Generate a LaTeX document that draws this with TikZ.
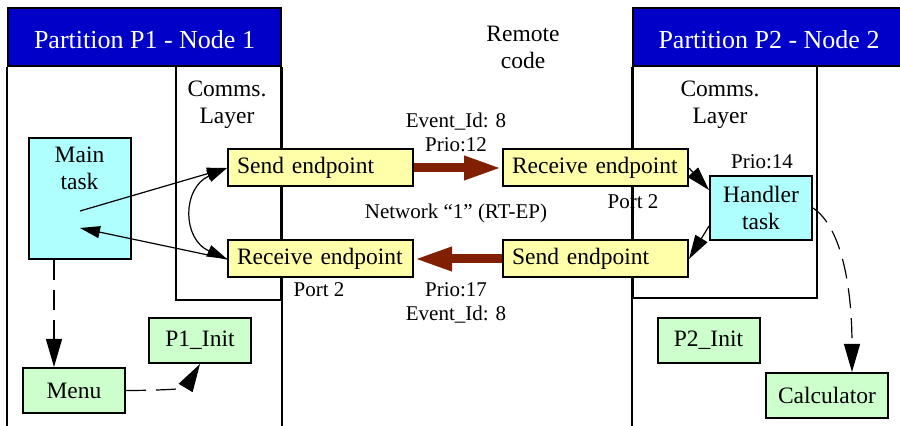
\documentclass[tikz,border=0pt]{standalone}
\usepackage{fontspec}
\setmainfont{Liberation Serif}
\usetikzlibrary{arrows.meta,positioning}
\definecolor{bandblue}{RGB}{0,0,200}
\definecolor{endpyellow}{RGB}{255,255,170}
\definecolor{taskcyan}{RGB}{175,255,255}
\definecolor{initgreen}{RGB}{204,255,204}
\definecolor{netbrown}{RGB}{128,32,0}

\begin{document}
\begin{tikzpicture}[x=0.5pt, y=-0.5pt, font=\fontsize{11.75}{13.5}\selectfont, >={Triangle[length=10pt,width=6pt]}]
	\tikzstyle{partbar}=[draw, line width=1.2pt, fill=bandblue, text=white, minimum width=136.5pt, minimum height=29pt, inner sep=0pt, text height=11.6pt, text depth=0pt, font=\fontsize{13}{15}\selectfont]
	\tikzstyle{layerbox}=[draw, line width=1.2pt, inner sep=0pt]
	\tikzstyle{endp}=[draw, line width=1pt, fill=endpyellow, text width=83.5pt, inner xsep=4.5pt, inner ysep=0pt, minimum height=18.5pt, align=left]
	\tikzstyle{taskbox}=[draw, line width=1pt, fill=taskcyan, minimum width=51pt, inner sep=0pt, align=center]
	\tikzstyle{initbox}=[draw, line width=1pt, fill=initgreen, minimum width=51pt, minimum height=22.5pt, inner sep=0pt]
	\tikzstyle{txt}=[align=center, inner sep=0pt]
	\tikzstyle{smalllbl}=[align=center, inner sep=0pt, font=\fontsize{10.5}{12}\selectfont]
	\tikzstyle{arr}=[->, line width=0.6pt]
	\tikzstyle{bigarr}=[-{Triangle[length=12pt,width=7pt]}, line width=0.6pt]
	\tikzstyle{dasharr}=[-{Triangle[length=14pt,width=8pt]}, line width=0.6pt, dash pattern=on 10pt off 5pt]
	\tikzstyle{netarr}=[-{Triangle[length=19pt,width=11pt]}, line width=4.5pt, draw=netbrown]

	\useasboundingbox (0,0) rectangle (900,426);
	\clip (0,0) rectangle (900,426);

	\node[partbar] (p1bar) at (144.5,37) {Partition P1 - Node 1};
	\node[partbar, minimum width=136pt] (p2bar) at (769,37) {Partition P2 - Node 2};
	\draw[line width=1.2pt] (p1bar.south west) -- ++(0,370);
	\draw[line width=1.2pt] (p1bar.south east) -- ++(0,370);
	\draw[line width=1.2pt] (p2bar.south west) -- ++(0,370);

	\node[layerbox, minimum width=52.5pt, minimum height=117pt] (layer1) at (228.5,183) {};
	\node[layerbox, minimum width=92pt, minimum height=116pt] (layer2) at (725,182) {};
	\node[txt] (layer1lbl) at (227,105) {Comms.\\Layer};
	\node[txt] (layer2lbl) at (720,105) {Comms.\\Layer};
	\node[txt] (remote) at (523,47) {Remote\\code};

	\node[endp] (send1) at (320.5,168) {Send endpoint};
	\node[endp] (recv1) [below=26pt of send1] {Receive endpoint};
	\node[endp] (recv2) [right=44pt of send1] {Receive endpoint};
	\node[endp] (send2) [below=26pt of recv2] {Send endpoint};

	\node[taskbox, minimum height=60.5pt, label={[txt, anchor=north, yshift=-5pt]north:{Main\\task}}] (main) at (79.5,198.5) {};
	\node[taskbox, minimum height=32pt] (handler) at (761,208) {Handler\\task};
	\node[initbox] (p1init) at (200,340.5) {P1\_Init};
	\node[initbox] (p2init) at (708.5,340.5) {P2\_Init};
	\node[initbox] (menu) at (74,390.5) {Menu};
	\node[initbox, minimum width=61pt] (calc) at (827,395.5) {Calculator};

	\node[smalllbl] (prio12) at (456,132) {Event\_Id: 8\\Prio:12};
	\node[smalllbl] (network) at (456,213) {Network “1” (RT-EP)};
	\node[smalllbl] (prio17) at (456,303) {Prio:17\\Event\_Id: 8};
	\node[smalllbl] (port2a) at (319,290) {Port 2};
	\node[smalllbl] (port2b) at (633,202) {Port 2};
	\node[smalllbl] (prio14) at (762,162) {Prio:14};

	\coordinate (mainout) at (80,211);
	\coordinate (mainin) at (80,228);

	\draw[arr] (mainout) -- (send1.west);
	\draw[arr] (recv1.west) -- (mainin);
	\draw[arr, <->] (send1.west) .. controls +(-45,20) and +(-45,-20) .. (recv1.west);

	\draw[netarr] (send1.east) -- (recv2.west);
	\draw[netarr] (send2.west) -- (recv1.east);

	\draw[bigarr] (recv2.east) -- ([yshift=9pt]handler.west);
	\draw[bigarr] ([yshift=-9pt]handler.west) -- (send2.east);

	\draw[dasharr] ([xshift=-12.75pt]main.south) -- ([xshift=-10pt]menu.north);
	\draw[dasharr] (menu.east) .. controls +(30,0) and +(-15,25) .. (p1init.south);
	\draw[dasharr] (handler.east) .. controls +(30,20) and +(0,-80) .. ([xshift=12.5pt]calc.north);
\end{tikzpicture}
\end{document}
